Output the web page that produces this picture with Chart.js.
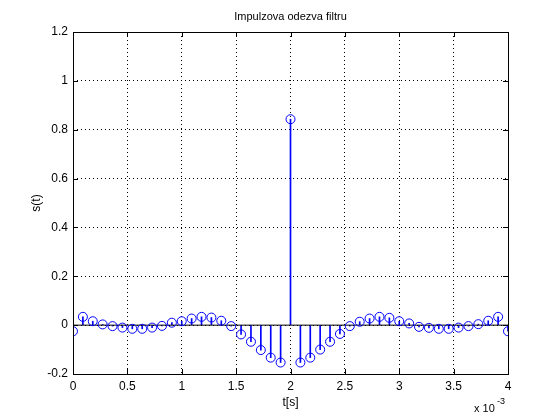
<!DOCTYPE html>
<html>
<head>
<meta charset="utf-8">
<script src="https://cdn.jsdelivr.net/npm/chart.js@4"></script>
<style>
  html, body { margin: 0; padding: 0; background: #fff; }
  #wrap { width: 560px; height: 420px; }
</style>
</head>
<body>
<div id="wrap"><canvas id="graf" width="560" height="420"></canvas></div>
<script>
// vzorky impulzove odezvy (45 vzorku, krok 4e-3/44)
const krok = 4e-3 / 44;
const odezva = [
  -0.025, 0.034, 0.016, 0.003, -0.004, -0.010, -0.015, -0.015, -0.010, -0.003,
  0.010, 0.016, 0.027, 0.034, 0.031, 0.018, -0.004, -0.038, -0.068, -0.102,
  -0.133, -0.153, 0.843, -0.153, -0.133, -0.100, -0.068, -0.036, -0.004, 0.014,
  0.027, 0.034, 0.030, 0.016, 0.007, -0.007, -0.011, -0.015, -0.015, -0.010,
  -0.004, 0.004, 0.018, 0.034, -0.025
];
const casy = odezva.map((v, i) => i * krok);
const xTicks = [0, 0.5e-3, 1e-3, 1.5e-3, 2e-3, 2.5e-3, 3e-3, 3.5e-3, 4e-3];
const yTicks = [-0.2, 0, 0.2, 0.4, 0.6, 0.8, 1, 1.2];

const body = casy.map((t, i) => ({ x: t, y: odezva[i] }));
const modra = "#0000ff";
const pismo = "'Liberation Sans', Arial, sans-serif";

// ramecek, vnitrni tiky a popisky kreslene navic
const matlabOsy = {
  id: "matlabOsy",
  afterDraw(chart) {
    const c = chart.ctx;
    const a = chart.chartArea;
    const sx = chart.scales.x, sy = chart.scales.y;
    c.save();
    c.strokeStyle = "#000";
    c.lineWidth = 1;
    c.strokeRect(Math.round(a.left) + 0.5, Math.round(a.top) + 0.5,
      Math.round(a.right - a.left), Math.round(a.bottom - a.top));
    c.beginPath();
    xTicks.forEach(t => {
      const px = Math.round(sx.getPixelForValue(t)) + 0.5;
      c.moveTo(px, a.bottom); c.lineTo(px, a.bottom - 5);
      c.moveTo(px, a.top); c.lineTo(px, a.top + 5);
    });
    yTicks.forEach(v => {
      const py = Math.round(sy.getPixelForValue(v)) + 0.5;
      c.moveTo(a.left, py); c.lineTo(a.left + 5, py);
      c.moveTo(a.right, py); c.lineTo(a.right - 5, py);
    });
    c.stroke();

    c.fillStyle = "#000";
    c.textAlign = "center";
    c.textBaseline = "middle";
    c.font = "11px " + pismo;
    c.fillText("Impulzova odezva filtru", (a.left + a.right) / 2, 17);
    c.font = "12px " + pismo;
    c.fillText("t[s]", (a.left + a.right) / 2, 403);
    c.save();
    c.translate(37, (a.top + a.bottom) / 2);
    c.rotate(-Math.PI / 2);
    c.fillText("s(t)", 0, 0);
    c.restore();
    c.textAlign = "left";
    c.font = "11px " + pismo;
    c.fillText("x 10", 474, 409);
    c.font = "9px " + pismo;
    c.fillText("-3", 497, 402);
    c.restore();
  }
};

new Chart(document.getElementById("graf"), {
  type: "scatter",
  data: {
    datasets: [
      {
        type: "scatter",
        label: "vzorky",
        data: body,
        pointStyle: "circle",
        pointRadius: 4.5,
        pointBorderWidth: 1,
        pointBorderColor: modra,
        pointBackgroundColor: "rgba(0,0,0,0)"
      },
      {
        type: "line",
        label: "nula",
        data: [{ x: 0, y: 0 }, { x: 4e-3, y: 0 }],
        borderColor: "#000",
        borderWidth: 1,
        pointRadius: 0
      },
      {
        type: "bar",
        label: "stonky",
        data: body,
        backgroundColor: modra,
        barThickness: 1
      }
    ]
  },
  options: {
    responsive: false,
    animation: false,
    layout: { padding: { top: 32, right: 52, left: 0, bottom: 0 } },
    plugins: {
      legend: { display: false },
      tooltip: { enabled: false },
      title: { display: false }
    },
    scales: {
      x: {
        type: "linear",
        min: 0,
        max: 4e-3,
        offset: false,
        border: { display: false, dash: [1, 3] },
        grid: { color: "#000", drawTicks: false, offset: false },
        afterBuildTicks: s => { s.ticks = xTicks.map(v => ({ value: v })); },
        afterFit: s => { s.height = 46; },
        ticks: {
          padding: 5,
          color: "#000",
          font: { family: pismo, size: 12 },
          maxRotation: 0,
          callback: v => String(Math.round(v * 1e4) / 10)
        }
      },
      y: {
        min: -0.2,
        max: 1.2,
        border: { display: false, dash: [1, 3] },
        grid: { color: "#000", drawTicks: false },
        afterBuildTicks: s => { s.ticks = yTicks.map(v => ({ value: v })); },
        afterFit: s => { s.width = 73; },
        ticks: {
          padding: 5,
          color: "#000",
          font: { family: pismo, size: 12 },
          callback: v => String(Math.round(v * 10) / 10)
        }
      }
    }
  },
  plugins: [matlabOsy]
});
</script>
</body>
</html>
